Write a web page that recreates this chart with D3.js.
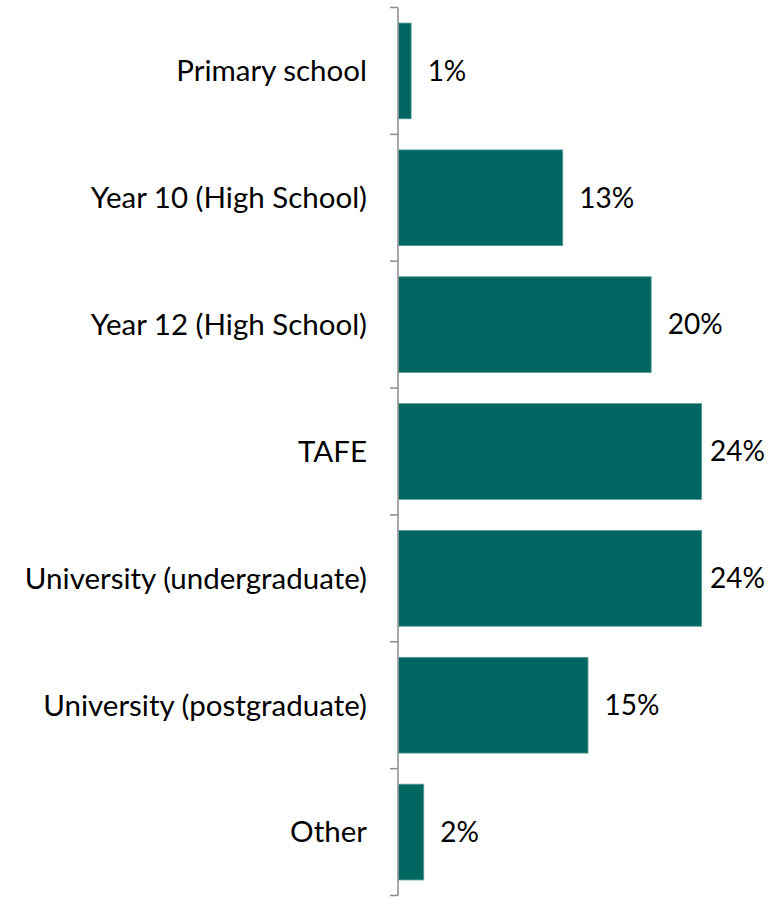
<!DOCTYPE html>
<html>
<head>
<meta charset="utf-8">
<script src="https://cdn.jsdelivr.net/npm/d3@7"></script>
<style>
  html, body { margin: 0; padding: 0; background: #fff; }
  svg { display: block; }
</style>
</head>
<body>
<svg id="chart" width="777" height="897"></svg>
<script>
// Highest level of education completed (% of respondents)
const categories = [
  "Primary school",
  "Year 10 (High School)",
  "Year 12 (High School)",
  "TAFE",
  "University (undergraduate)",
  "University (postgraduate)",
  "Other"
];
const values = [1, 13, 20, 24, 24, 15, 2];
const valueLabels = ["1%", "13%", "20%", "24%", "24%", "15%", "2%"];

const W = 777, H = 897;
const margin = { top: 7.5, right: 0, bottom: 1.5, left: 398 };
const font = "Lato, 'Open Sans', sans-serif";

const svg = d3.select("#chart");

const x = d3.scaleLinear()
  .domain([0, 30])
  .range([margin.left, W - margin.right]);

const y = d3.scaleBand()
  .domain(categories)
  .range([margin.top, H - margin.bottom])
  .paddingInner(0.245)
  .paddingOuter(0.1225);

const data = categories.map((c, i) => ({ cat: c, v: values[i], label: valueLabels[i] }));

// bars
svg.append("g")
  .selectAll("rect")
  .data(data)
  .join("rect")
  .attr("x", x(0) + 0.5)
  .attr("y", d => y(d.cat))
  .attr("width", d => x(d.v) - x(0))
  .attr("height", y.bandwidth())
  .attr("fill", "#006661")
  .attr("stroke", "#5c9e9b")
  .attr("stroke-width", 0.8);

// category axis with ticks at band boundaries
const axisG = svg.append("g").attr("stroke", "#8c8c8c").attr("stroke-width", 1.5);
axisG.append("line")
  .attr("x1", x(0)).attr("x2", x(0))
  .attr("y1", margin.top).attr("y2", H - margin.bottom);
const step = y.step();
const boundaries = d3.range(categories.length + 1).map(i => margin.top + i * step);
axisG.selectAll("line.tick")
  .data(boundaries)
  .join("line")
  .attr("class", "tick")
  .attr("x1", x(0) - 8).attr("x2", x(0))
  .attr("y1", d => d).attr("y2", d => d);

// category labels
svg.append("g")
  .selectAll("text")
  .data(data)
  .join("text")
  .attr("x", x(0) - 31)
  .attr("y", d => y(d.cat) + y.bandwidth() / 2)
  .attr("dy", "0.35em")
  .attr("text-anchor", "end")
  .attr("font-family", font)
  .attr("font-size", 29.5)
  .attr("fill", "#000")
  .text(d => d.cat);

// value labels, kept inside the plot area
svg.append("g")
  .selectAll("text")
  .data(data)
  .join("text")
  .attr("y", d => y(d.cat) + y.bandwidth() / 2)
  .attr("dy", "0.35em")
  .attr("font-family", font)
  .attr("font-size", 28)
  .attr("fill", "#000")
  .text(d => d.label)
  .attr("x", function(d) {
    const w = this.getComputedTextLength();
    return Math.min(x(d.v) + 17, W - 12 - w);
  });
</script>
</body>
</html>
